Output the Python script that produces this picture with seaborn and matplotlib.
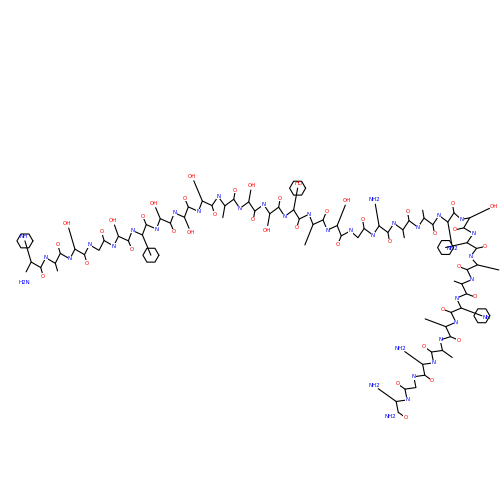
import numpy as np
import pandas as pd
import seaborn as sns
import matplotlib
matplotlib.use("Agg")
import matplotlib.pyplot as plt

residues = ["His","Ala","Glu","Gly","Thr","Phe","Thr","Ser","Asp","Val","Ser","Ser","Tyr",
            "Leu","Glu","Gly","Gln","Ala","Ala","Lys","Glu","Phe","Ile","Ala","Trp",
            "Leu","Val","Lys","Gly","Arg"]
side_labels = {"Glu":"OH","Asp":"OH","Thr":"OH","Ser":"OH","Tyr":"HO","Gln":"NH2","Lys":"NH2","Arg":"NH2","His":"NH","Trp":"NH"}
waypoints_x = [25, 120, 215, 300, 350, 465, 475, 445, 395]
waypoints_y = [268, 240, 200, 215, 235, 215, 260, 340, 410]

sns.set_style("white")
fig, ax = plt.subplots(figsize=(5, 5), dpi=100)
fig.subplots_adjust(0, 0, 1, 1)

wx = np.array(waypoints_x, float); wy = np.array(waypoints_y, float)
seg = np.hypot(np.diff(wx), np.diff(wy)); cum = np.concatenate([[0], np.cumsum(seg)])
n_atoms = len(residues) * 3
t = np.linspace(0, cum[-1], n_atoms)
px = np.interp(t, cum, wx); py = np.interp(t, cum, wy)
dx = np.gradient(px); dy = np.gradient(py); L = np.hypot(dx, dy)
nx, ny = -dy / L, dx / L
sign = np.where(np.arange(n_atoms) % 2 == 0, 1, -1)
bx = px + nx * 4 * sign; by = py + ny * 4 * sign
df = pd.DataFrame({"x": bx, "y": by, "i": np.arange(n_atoms)})
sns.lineplot(data=df, x="x", y="y", sort=False, color="black", lw=0.8, ax=ax)

for r, name in enumerate(residues):
    ia = r * 3; ic = r * 3 + 2; inn = r * 3
    s = sign[ia + 1]
    if r > 0:
        ax.text(bx[inn], by[inn], "N", color="blue", fontsize=4, ha="center", va="center",
                bbox=dict(fc="white", ec="none", pad=0.2))
    ox, oy = bx[ic] + nx[ic] * 9 * sign[ic], by[ic] + ny[ic] * 9 * sign[ic]
    ax.plot([bx[ic], ox], [by[ic], oy], color="black", lw=0.8)
    ax.text(ox, oy, "O", color="red", fontsize=4, ha="center", va="center",
            bbox=dict(fc="white", ec="none", pad=0.2))
    ca = ia + 1
    if name == "Gly":
        continue
    ln = {"Ala":8,"Val":12,"Ser":12,"Thr":12}.get(name, 22)
    sx, sy = bx[ca] + nx[ca] * ln * s, by[ca] + ny[ca] * ln * s
    ax.plot([bx[ca], sx], [by[ca], sy], color="black", lw=0.8)
    if name in ("Phe","Tyr","Trp","His"):
        ang = np.linspace(0, 2*np.pi, 7)
        ax.plot(sx + 8*np.cos(ang), sy + 8*np.sin(ang), color="black", lw=0.8)
    if name in side_labels:
        col = "red" if "O" in side_labels[name] else "blue"
        ax.text(sx + nx[ca]*5*s, sy + ny[ca]*5*s, side_labels[name], color=col, fontsize=4,
                ha="center", va="center")
ax.text(bx[0] - 2, by[0] + 12, "H2N", color="blue", fontsize=4, ha="center")
ax.text(bx[-1] - 14, by[-1] + 6, "NH2", color="blue", fontsize=4)

ax.set_xlim(0, 500); ax.set_ylim(500, 0)
ax.set_aspect("equal"); ax.axis("off")
fig.savefig("out.png", dpi=100, facecolor="white")
